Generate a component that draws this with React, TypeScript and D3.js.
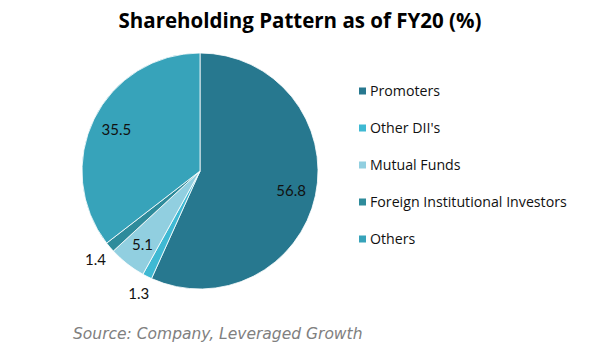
import React, { useRef, useEffect } from 'react';
import * as d3 from 'd3';

const categories = ['Promoters', "Other DII's", 'Mutual Funds', 'Foreign Institutional Investors', 'Others'];
const values = [56.8, 1.3, 5.1, 1.4, 35.5];
const colors = ['#27788f', '#3fb9d3', '#91cfe0', '#2e8b9b', '#37a3ba'];
// small slices get their label outside the pie
const outside = [false, true, false, true, false];

const width = 602;
const height = 354;

const App: React.FC = () => {
  const svgRef = useRef<SVGSVGElement>(null);

  useEffect(() => {
    if (!svgRef.current) return;
    const svg = d3.select(svgRef.current);
    svg.selectAll('*').remove();

    const cx = 200;
    const cy = 171;
    const radius = 118;

    const data = categories.map((c, i) => ({ name: c, value: values[i], color: colors[i], outside: outside[i] }));

    const pie = d3.pie<typeof data[number]>()
      .sort(null)
      .value(d => d.value);
    const arcs = pie(data);

    const arc = d3.arc<d3.PieArcDatum<typeof data[number]>>()
      .innerRadius(0)
      .outerRadius(radius);
    const labelArc = d3.arc<d3.PieArcDatum<typeof data[number]>>()
      .innerRadius(radius * 0.79)
      .outerRadius(radius * 0.79);
    const outerArc = d3.arc<d3.PieArcDatum<typeof data[number]>>()
      .innerRadius(radius * 1.16)
      .outerRadius(radius * 1.16);

    const g = svg.append('g').attr('transform', `translate(${cx},${cy})`);

    g.selectAll('path.slice')
      .data(arcs)
      .enter()
      .append('path')
      .attr('class', 'slice')
      .attr('d', arc)
      .attr('fill', d => d.data.color)
      .attr('stroke', 'white')
      .attr('stroke-width', 0.8);

    g.selectAll('text.label')
      .data(arcs)
      .enter()
      .append('text')
      .attr('class', 'label')
      .attr('transform', d => `translate(${(d.data.outside ? outerArc : labelArc).centroid(d)})`)
      .attr('text-anchor', 'middle')
      .attr('dy', '0.35em')
      .style('font-family', 'Lato, sans-serif')
      .style('font-size', '15px')
      .style('fill', '#111')
      .text(d => d.data.value.toFixed(1));

    // Title
    svg.append('text')
      .attr('x', 300)
      .attr('y', 28)
      .attr('text-anchor', 'middle')
      .style('font-family', '"Open Sans", sans-serif')
      .style('font-size', '20.5px')
      .style('font-weight', 'bold')
      .style('fill', '#000')
      .text('Shareholding Pattern as of FY20 (%)');

    // Legend
    const legend = svg.selectAll('g.legend')
      .data(data)
      .enter()
      .append('g')
      .attr('class', 'legend')
      .attr('transform', (d, i) => `translate(359, ${91 + i * 37})`);

    legend.append('rect')
      .attr('x', 0)
      .attr('y', -3.5)
      .attr('width', 7)
      .attr('height', 7)
      .attr('fill', d => d.color);

    legend.append('text')
      .attr('x', 11)
      .attr('y', 0)
      .attr('dy', '0.35em')
      .style('font-family', '"Open Sans", sans-serif')
      .style('font-size', '14.2px')
      .style('fill', '#111')
      .text(d => d.name);

    // Source
    svg.append('text')
      .attr('x', 73)
      .attr('y', 339)
      .style('font-family', '"DejaVu Sans", sans-serif')
      .style('font-size', '15.5px')
      .style('font-style', 'italic')
      .style('fill', '#808080')
      .text('Source: Company, Leveraged Growth');
  }, []);

  return (
    <svg ref={svgRef} width={width} height={height} style={{ position: 'absolute', left: 0, top: 0, background: 'white' }}></svg>
  );
};

export default App;
